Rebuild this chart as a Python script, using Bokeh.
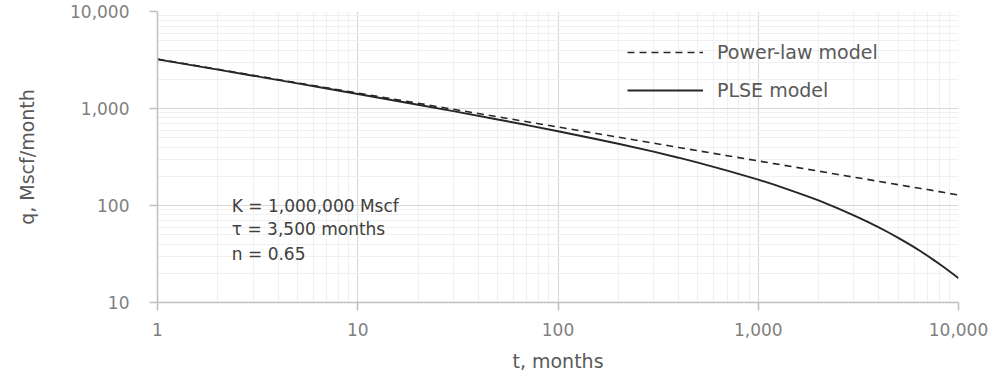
from bokeh.plotting import figure
from bokeh.models import (FixedTicker, NumeralTickFormatter, Legend, LegendItem,
                          Label, Range1d)
from bokeh.embed import file_html
from bokeh.resources import INLINE

# ---- data ----
t_months = [1, 2, 3, 5, 7, 10, 20, 30, 50, 70, 100, 150, 200, 300, 400, 500, 700,
            1000, 1200, 1500, 1750, 2000, 2500, 3000, 3500, 4000, 4500, 5000, 5500,
            6000, 6500, 7000, 7500, 8000, 8500, 9000, 9500, 10000]
q_power_law = [3230, 2534, 2199, 1839, 1635, 1443, 1132, 982, 821, 730, 644, 559,
               506, 439, 397, 367, 326, 288, 270, 250, 237, 226, 209, 196, 186,
               177, 170, 164, 158.5, 154, 149.4, 146, 142.2, 139, 136.1, 133,
               130.8, 128.6]
q_plse = [3214, 2514, 2177, 1813, 1607, 1411, 1093, 939, 771, 675, 583, 491, 433,
          359, 311, 277, 229, 185, 164, 140, 125, 113, 93.5, 79.3, 68.3, 59.6,
          52.4, 46.4, 41.4, 37.2, 33.5, 30.3, 27.5, 25.1, 22.9, 21.0, 19.3, 17.8]
x_ticks = [1, 10, 100, 1000, 10000]
y_ticks = [10, 100, 1000, 10000]
series_names = ["Power-law model", "PLSE model"]
annotation_lines = ["K = 1,000,000 Mscf", "\u03c4 = 3,500 months", "n = 0.65"]
annotation_y = [100, 57, 32]
annotation_x = 2.35

FONT = "DejaVu Sans"

p = figure(x_axis_type="log", y_axis_type="log",
           frame_width=801, frame_height=291,
           min_border_left=157, min_border_top=11, min_border_right=40,
           min_border_bottom=69,
           x_range=Range1d(1, 10000), y_range=Range1d(10, 10000),
           output_backend="svg", toolbar_location=None)
p.outline_line_color = None
p.background_fill_color = "white"

r1 = p.line(t_months, q_power_law, line_color="#262626", line_width=1.6,
            line_dash="7 5")
r2 = p.line(t_months, q_plse, line_color="#262626", line_width=1.9)

for ax in (p.xaxis[0], p.yaxis[0]):
    ax.axis_line_color = "#bfbfbf"
    ax.axis_line_width = 1.5
    ax.major_tick_line_color = "#bfbfbf"
    ax.major_tick_line_width = 1.5
    ax.major_tick_out = 8
    ax.major_tick_in = 0
    ax.minor_tick_out = 0
    ax.minor_tick_in = 0
    ax.major_label_text_color = "#7f7f7f"
    ax.major_label_text_font = FONT
    ax.major_label_text_font_size = "17px"
    ax.axis_label_text_color = "#595959"
    ax.axis_label_text_font = FONT
    ax.axis_label_text_font_size = "19px"
    ax.axis_label_text_font_style = "normal"
    ax.formatter = NumeralTickFormatter(format="0,0")

p.xaxis.ticker = FixedTicker(ticks=x_ticks,
                             minor_ticks=[m * d for d in x_ticks[:-1] for m in range(2, 10)])
p.yaxis.ticker = FixedTicker(ticks=y_ticks,
                             minor_ticks=[m * d for d in y_ticks[:-1] for m in range(2, 10)])
p.xaxis.axis_label = "t, months"
p.yaxis.axis_label = "q, Mscf/month"
p.xaxis.major_label_standoff = 12
p.yaxis.major_label_standoff = 20
p.xaxis.axis_label_standoff = 11
p.yaxis.axis_label_standoff = 29

p.xgrid[0].ticker = p.xaxis[0].ticker
p.ygrid[0].ticker = p.yaxis[0].ticker
for g in (p.xgrid[0], p.ygrid[0]):
    g.grid_line_color = "#d9d9d9"
    g.grid_line_width = 1.2
    g.minor_grid_line_color = "#f0f0f0"
    g.minor_grid_line_width = 1.2

legend = Legend(items=[LegendItem(label=series_names[0], renderers=[r1]),
                       LegendItem(label=series_names[1], renderers=[r2])],
                location=(470, 197), orientation="vertical",
                border_line_color=None, background_fill_alpha=0,
                label_text_font=FONT, label_text_font_size="19px",
                label_text_color="#595959",
                glyph_width=76, glyph_height=30, label_height=30,
                spacing=8, padding=0, margin=0, label_standoff=14)
p.add_layout(legend)

for txt, yy in zip(annotation_lines, annotation_y):
    p.add_layout(Label(x=annotation_x, y=yy, text=txt, text_font=FONT,
                       text_font_size="17px", text_color="#404040",
                       text_baseline="middle"))

open("out.html", "w").write(file_html(p, INLINE))
